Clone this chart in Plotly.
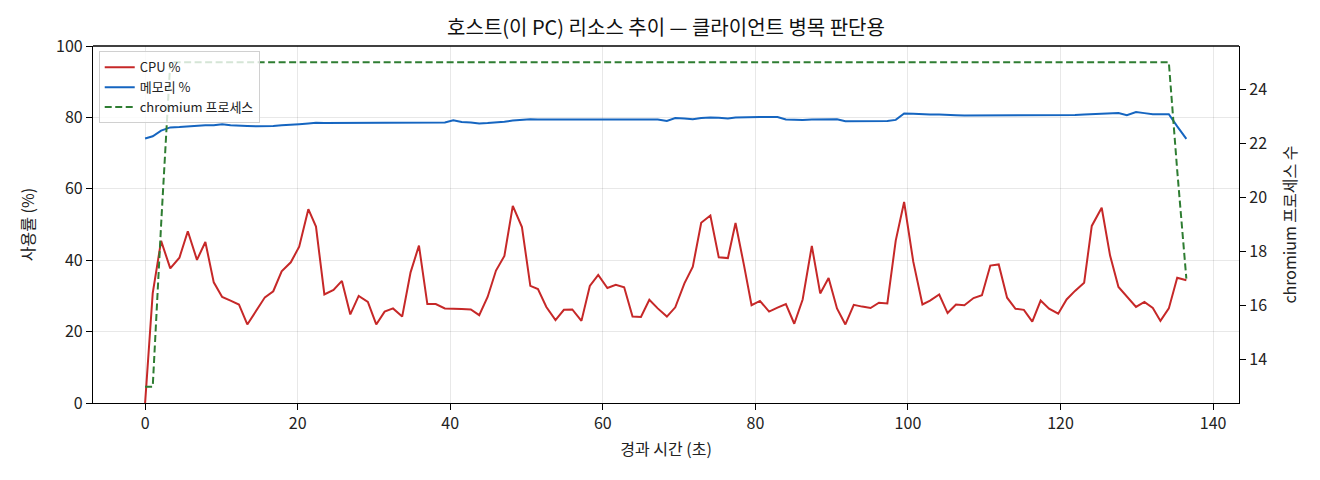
import plotly.graph_objects as go

elapsed_s = [
    0.0, 1.0, 2.1, 3.3, 4.5, 5.6, 6.8, 7.9, 9.0, 10.1, 11.2, 12.3, 13.4, 14.6, 15.7, 16.8,
    17.9, 19.1, 20.2, 21.4, 22.4, 23.5, 24.7, 25.8, 26.9, 28.0, 29.2, 30.3, 31.4, 32.5, 33.7,
    34.8, 35.9, 37.0, 38.1, 39.3, 40.4, 41.5, 42.7, 43.8, 44.9, 46.0, 47.1, 48.2, 49.4, 50.5, 51.5,
    52.6, 53.8, 54.9, 56.0, 57.2, 58.3, 59.4, 60.6, 61.7, 62.8, 63.9, 65.0, 66.1, 67.2, 68.4, 69.5,
    70.7, 71.8, 72.9, 74.1, 75.2, 76.4, 77.4, 78.5, 79.5, 80.6, 81.8, 82.9, 84.0, 85.1, 86.2, 87.4,
    88.5, 89.6, 90.7, 91.8, 92.9, 94.0, 95.1, 96.2, 97.3, 98.4, 99.5, 100.7, 101.9, 102.9, 104.1,
    105.2, 106.3, 107.4, 108.6, 109.7, 110.8, 111.9, 113.0, 114.1, 115.2, 116.3, 117.4, 118.5, 119.7,
    120.8, 121.9, 123.1, 124.1, 125.4, 126.5, 127.6, 128.7, 129.9, 131.0, 132.1, 133.1, 134.2, 135.3, 136.5,
]

cpu_pct = [
    0.0, 30.8, 45.4, 37.7, 40.7, 48.1, 40.1, 45.1, 33.8, 29.7, 28.7, 27.6, 22.0, 26.0, 29.6, 31.3,
    36.9, 39.4, 43.8, 54.3, 49.4, 30.4, 31.7, 34.2, 24.8, 30.0, 28.3, 22.0, 25.6, 26.5, 24.2,
    36.6, 44.1, 27.7, 27.7, 26.5, 26.3, 26.3, 26.2, 24.6, 29.7, 37.1, 41.2, 55.2, 49.3, 32.8, 31.9,
    26.9, 23.2, 26.1, 26.2, 23.0, 32.8, 35.9, 32.2, 33.1, 32.4, 24.2, 24.1, 28.9, 26.5, 24.2, 26.8,
    33.5, 38.2, 50.5, 52.5, 40.8, 40.6, 50.4, 38.7, 27.4, 28.6, 25.6, 26.7, 27.7, 22.2, 29.0, 44.0,
    30.7, 35.0, 26.5, 22.0, 27.5, 27.0, 26.6, 28.1, 27.9, 45.5, 56.3, 39.6, 27.6, 28.7, 30.4,
    25.2, 27.6, 27.4, 29.4, 30.2, 38.5, 38.8, 29.5, 26.4, 26.1, 22.8, 28.7, 26.4, 25.0,
    29.0, 31.4, 33.7, 49.6, 54.7, 41.3, 32.5, 29.7, 26.9, 28.3, 26.6, 23.0, 26.5, 35.1, 34.4,
]

mem_pct = [
    74.1, 74.7, 76.3, 77.2, 77.3, 77.5, 77.7, 77.8, 77.8, 78.1, 77.8, 77.6, 77.6, 77.5, 77.5, 77.6,
    77.8, 77.9, 78.1, 78.3, 78.5, 78.4, 78.4, 78.5, 78.5, 78.5, 78.5, 78.5, 78.5, 78.5, 78.5,
    78.6, 78.6, 78.6, 78.6, 78.6, 79.2, 78.7, 78.6, 78.3, 78.4, 78.5, 78.8, 79.1, 79.4, 79.5, 79.4,
    79.4, 79.4, 79.3, 79.3, 79.2, 79.3, 79.4, 79.4, 79.4, 79.4, 79.4, 79.4, 79.4, 79.4, 79.0, 79.8,
    79.7, 79.5, 79.8, 80.0, 79.9, 79.7, 80.0, 80.1, 80.1, 80.1, 80.1, 80.1, 79.4, 79.3, 79.3, 79.4,
    79.4, 79.5, 79.5, 78.9, 78.9, 79.0, 79.0, 79.0, 79.0, 79.3, 81.1, 81.0, 80.8, 80.8, 80.8,
    80.6, 80.6, 80.5, 80.5, 80.6, 80.6, 80.7, 80.7, 80.6, 80.6, 80.6, 80.6, 80.6, 80.6,
    80.6, 80.7, 80.8, 80.9, 81.1, 81.2, 81.2, 80.6, 81.5, 81.2, 80.9, 80.9, 80.9, 77.5, 74.0,
]

chromium_procs = [13, 13, 19] + [25] * 117 + [25, 21, 17]

x_ticks = [0, 20, 40, 60, 80, 100, 120, 140]
y_ticks = [0, 20, 40, 60, 80, 100]
y2_ticks = [14, 16, 18, 20, 22, 24]

FONT = "Noto Sans CJK KR, Noto Sans, DejaVu Sans, sans-serif"
TICK_SIZE = 16
LABEL_SIZE = 16

fig = go.Figure()
fig.add_trace(go.Scatter(x=elapsed_s, y=cpu_pct, mode="lines", name="CPU %",
                         line=dict(color="#c62828", width=2)))
fig.add_trace(go.Scatter(x=elapsed_s, y=mem_pct, mode="lines", name="메모리 %",
                         line=dict(color="#1565c0", width=2)))
fig.add_trace(go.Scatter(x=elapsed_s, y=chromium_procs, mode="lines", name="chromium 프로세스",
                         line=dict(color="#2e7d32", width=2, dash="7px,3.5px"), yaxis="y2"))

axis_common = dict(
    showline=True, linecolor="black", linewidth=1.3, mirror=False,
    ticks="outside", ticklen=6, tickcolor="black", tickwidth=1.3,
    tickfont=dict(size=TICK_SIZE, color="#222", family=FONT),
    zeroline=False,
)

fig.update_layout(
    width=1320, height=480,
    paper_bgcolor="white", plot_bgcolor="white",
    margin=dict(l=93, r=81, t=46, b=77),
    font=dict(family=FONT, color="#222"),
    title=dict(text="호스트(이 PC) 리소스 추이 — 클라이언트 병목 판단용",
               x=(93 + 1239) / 2 / 1320, xanchor="center", y=1 - 28 / 480, yanchor="middle",
               font=dict(size=20, color="#111", family=FONT)),
    xaxis=dict(range=[-6.83, 143.4], tickvals=x_ticks, showgrid=True,
               gridcolor="rgba(0,0,0,0.09)", gridwidth=1,
               title=dict(text="경과 시간 (초)", font=dict(size=LABEL_SIZE, family=FONT), standoff=10),
               **axis_common),
    yaxis=dict(range=[0, 100], tickvals=y_ticks, showgrid=True,
               gridcolor="rgba(0,0,0,0.09)", gridwidth=1,
               title=dict(text="사용률 (%)", font=dict(size=LABEL_SIZE, family=FONT), standoff=17),
               **axis_common),
    yaxis2=dict(range=[12.4, 25.6], tickvals=y2_ticks, overlaying="y", side="right",
                showgrid=False,
                title=dict(text="chromium 프로세스 수", font=dict(size=LABEL_SIZE, family=FONT), standoff=18),
                **axis_common),
    legend=dict(x=0.005, y=0.985, xanchor="left", yanchor="top",
                bgcolor="rgba(255,255,255,0.8)", bordercolor="#d0d0d0", borderwidth=1,
                itemwidth=30,
                font=dict(size=13, family=FONT, color="#222")),
    showlegend=True,
)

# top spine
fig.add_shape(type="line", xref="paper", yref="paper", x0=0, x1=1, y0=1, y1=1,
              line=dict(color="black", width=1.3))

fig.write_html("out.html", config={"displayModeBar": False},
               post_script="document.body.style.margin='0px';")
